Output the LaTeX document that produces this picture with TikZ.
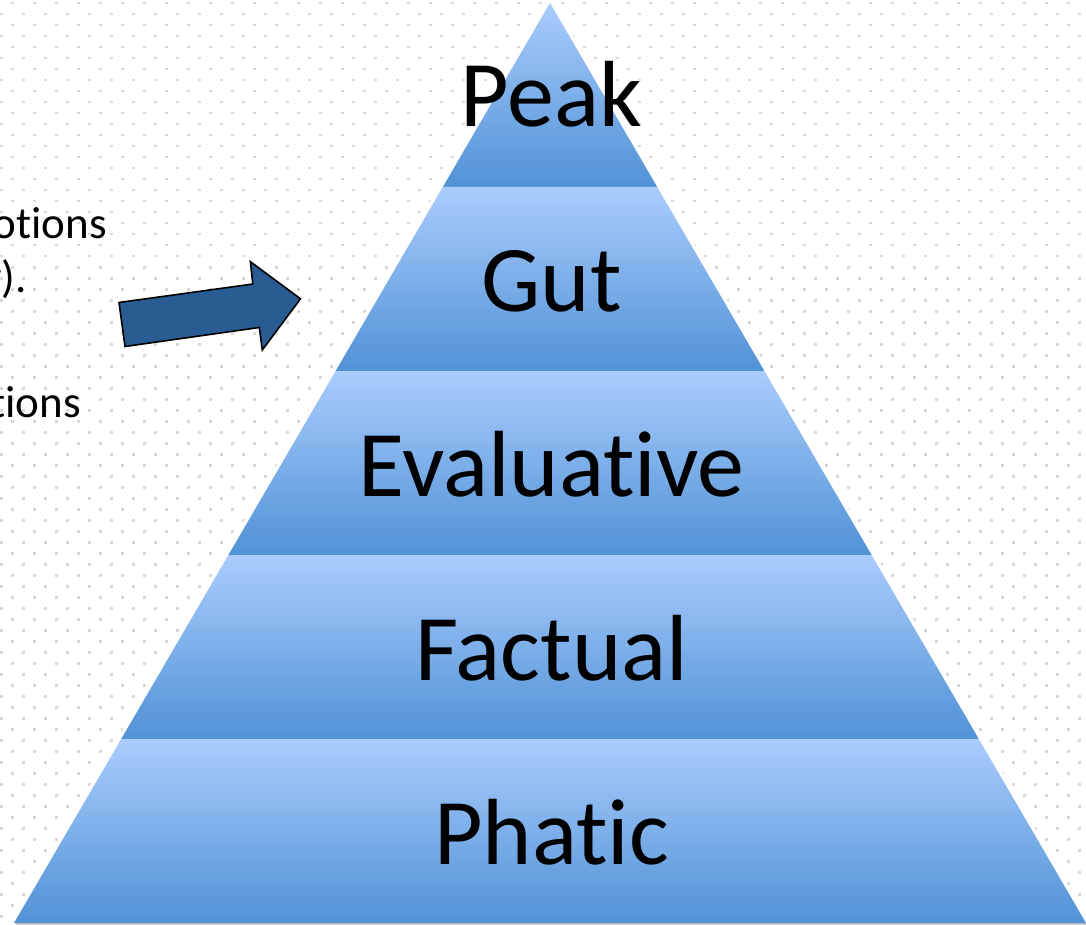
\documentclass[tikz,border=0pt]{standalone}
\usepackage{fontspec}
\setmainfont{Carlito}[Ligatures=NoCommon]
\definecolor{dotgray}{RGB}{216,216,216}
\definecolor{bandtop}{RGB}{170,204,253}
\definecolor{bandbot}{RGB}{80,146,214}
\definecolor{arrowblue}{RGB}{40,92,146}
\tikzset{
  band/.style={top color=bandtop, bottom color=bandbot, draw=none},
  levellabel/.style={anchor=base, inner sep=0pt, font=\fontsize{94}{94}\selectfont},
  sidetext/.style={anchor=base east, inner sep=0pt, font=\fontsize{45}{54}\selectfont},
  blockarrow/.style={fill=arrowblue, draw=black, line width=1.6pt, line join=miter},
}
\begin{document}
\begin{tikzpicture}[x=1pt, y=-1pt]
  \useasboundingbox (0,0) rectangle (1086,925);
  \clip (0,0) rectangle (1086,925);
  \fill[white] (0,0) rectangle (1086,925);

  % staggered dot grid
  \foreach \k in {0,...,84} {
    \pgfmathsetmacro\yy{3.3+11*\k}
    \pgfmathsetmacro\xo{ifthenelse(mod(\k,2)==1,1.3,12.3)}
    \foreach \i in {0,...,49} {
      \fill[dotgray] (\xo+22*\i-1.1, \yy-1.1) rectangle ++(2.3,2.3);
    }
  }

  % side text, cut off at the left border
  \node[sidetext] (t1) at (107,239) {otions};
  \node[sidetext] (t2) at (27,292) {y).};
  \node[sidetext] (t3) at (81,417) {tions};

  % block arrow pointing at the pyramid
  \coordinate (a1) at (119,302.5);
  \coordinate (a2) at (252.8,284);
  \coordinate (a3) at (250.4,261.7);
  \coordinate (a4) at (300.5,298.8);
  \coordinate (a5) at (262.3,350);
  \coordinate (a6) at (259.3,327.5);
  \coordinate (a7) at (125,346.5);
  \draw[blockarrow] (a1) -- (a2) -- (a3) -- (a4) -- (a5) -- (a6) -- (a7) -- cycle;

  % soft halo and base shadow of the pyramid
  \draw[white, line width=7pt, line join=round] (550,3) -- (14,923) -- (1086,923) -- cycle;
  \draw[black!45, line width=2.5pt, opacity=0.5] (16,924.5) -- (1086,924.5);

  % pyramid levels
  \shade[band] (550,3) -- (442.8,187) -- (657.2,187) -- cycle;
  \shade[band] (442.8,187) -- (335.6,371) -- (764.4,371) -- (657.2,187) -- cycle;
  \shade[band] (335.6,371) -- (228.4,555) -- (871.6,555) -- (764.4,371) -- cycle;
  \shade[band] (228.4,555) -- (121.2,739) -- (978.8,739) -- (871.6,555) -- cycle;
  \shade[band] (121.2,739) -- (14,923) -- (1086,923) -- (978.8,739) -- cycle;

  % level labels
  \node[levellabel] (peak) at (551.5,127) {Peak};
  \node[levellabel] (gut)  at (551.5,311) {Gut};
  \node[levellabel] (eval) at (551.5,496) {Evaluative};
  \node[levellabel] (fact) at (551.5,680) {Factual};
  \node[levellabel] (phat) at (551.5,864) {Phatic};
\end{tikzpicture}
\end{document}
